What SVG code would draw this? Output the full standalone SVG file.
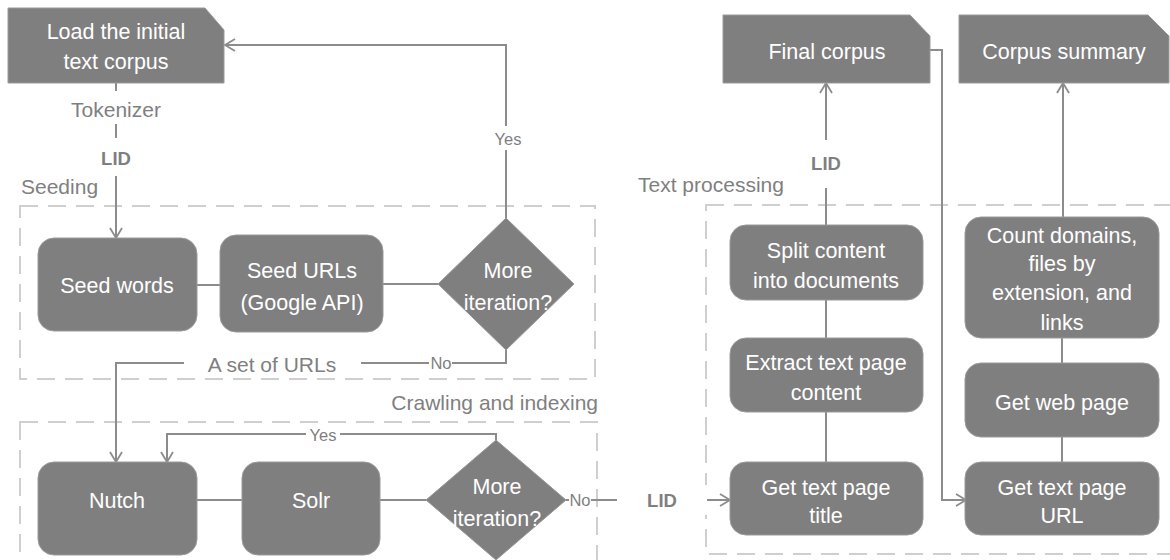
<svg xmlns="http://www.w3.org/2000/svg" width="1170" height="560" viewBox="0 0 1170 560">
<style>
.box{fill:#7f7f7f;stroke:#9a9a9a;stroke-width:1}
.nt{font-family:"Liberation Sans",Arial,sans-serif;font-size:21.5px;fill:#fff;text-anchor:middle}
.lbl{font-family:"Liberation Sans",Arial,sans-serif;font-size:21px;fill:#7f7f7f}
.sm{font-family:"Liberation Sans",Arial,sans-serif;font-size:16.5px;fill:#7f7f7f;text-anchor:middle}
.lid{font-family:"Liberation Sans",Arial,sans-serif;font-size:18.5px;font-weight:bold;fill:#7f7f7f;text-anchor:middle}
.ln{fill:none;stroke:#8c8c8c;stroke-width:2}
.grp{fill:none;stroke:#cfcfcf;stroke-width:2;stroke-dasharray:18 10}
.bg{fill:#fff}
</style>
<defs>
<marker id="arr" markerUnits="userSpaceOnUse" markerWidth="14" markerHeight="14" refX="11" refY="7" orient="auto">
<path d="M1,1 L11,7 L1,13" fill="none" stroke="#8c8c8c" stroke-width="1.8"/>
</marker>
</defs>
<rect width="1170" height="560" fill="#fff"/>

<g id="groups">
<rect class="grp" x="20" y="206" width="575" height="173"/>
<rect class="grp" x="20" y="422" width="577" height="160"/>
<rect class="grp" x="706" y="205" width="480" height="349"/>
<text class="lbl" x="21" y="194">Seeding</text>
<text class="lbl" x="598" y="410" text-anchor="end">Crawling and indexing</text>
<text class="lbl" x="638" y="192">Text processing</text>
</g>

<g id="connectors">
<path class="ln" d="M116,83 V238" marker-end="url(#arr)"/>
<rect class="bg" x="60" y="91" width="112" height="33"/>
<rect class="bg" x="95" y="138" width="42" height="38"/>
<path class="ln" d="M506,218 V45 H225" marker-end="url(#arr)"/>
<rect class="bg" x="490" y="126" width="34" height="24"/>
<path class="ln" d="M197,285 H220"/>
<path class="ln" d="M383,284 H439"/>
<path class="ln" d="M506,350 V363 H116 V462" marker-end="url(#arr)"/>
<rect class="bg" x="429" y="355" width="23" height="16"/>
<rect class="bg" x="184" y="350" width="177" height="26"/>
<path class="ln" d="M496,440 V434 H167 V462" marker-end="url(#arr)"/>
<rect class="bg" x="306" y="427" width="34" height="16"/>
<path class="ln" d="M197,500 H242"/>
<path class="ln" d="M380,500 H426"/>
<path class="ln" d="M566,500 H730" marker-end="url(#arr)"/>
<rect class="bg" x="569" y="492" width="22" height="16"/>
<rect class="bg" x="617" y="485" width="90" height="30"/>
<path class="ln" d="M826,338 V300"/>
<path class="ln" d="M826,462 V412"/>
<path class="ln" d="M826,225 V83" marker-end="url(#arr)"/>
<rect class="bg" x="805" y="140" width="42" height="48"/>
<path class="ln" d="M930,50 H942 V500 H966" marker-end="url(#arr)"/>
<path class="ln" d="M1062,462 V437"/>
<path class="ln" d="M1062,363 V338"/>
<path class="ln" d="M1063,217 V83" marker-end="url(#arr)"/>
<text class="lbl" x="116" y="117" text-anchor="middle">Tokenizer</text>
<text class="lid" x="116" y="165">LID</text>
<text class="sm" x="508" y="145">Yes</text>
<text class="sm" x="441" y="369">No</text>
<text class="lbl" x="272" y="372" text-anchor="middle">A set of URLs</text>
<text class="sm" x="323" y="441">Yes</text>
<text class="sm" x="580" y="506">No</text>
<text class="lid" x="662" y="507">LID</text>
<text class="lid" x="826" y="170">LID</text>
</g>

<g id="load"><path class="box" d="M8,8 H205 L224,30 V83 H8 Z"/><text class="nt" x="116" y="39">Load the initial</text><text class="nt" x="116" y="69">text corpus</text></g>
<g id="seedwords"><rect class="box" x="38" y="238" width="159" height="93" rx="16"/><text class="nt" x="117" y="293">Seed words</text></g>
<g id="seedurls"><rect class="box" x="220" y="235" width="163" height="97" rx="16"/><text class="nt" x="302" y="278">Seed URLs</text><text class="nt" x="302" y="310">(Google API)</text></g>
<g id="more1"><polygon class="box" points="506,218 574,284 506,350 438,284"/><text class="nt" x="508" y="278">More</text><text class="nt" x="508" y="310">iteration?</text></g>
<g id="nutch"><rect class="box" x="38" y="462" width="159" height="93" rx="16"/><text class="nt" x="117" y="508">Nutch</text></g>
<g id="solr"><rect class="box" x="242" y="462" width="138" height="93" rx="16"/><text class="nt" x="311" y="508">Solr</text></g>
<g id="more2"><polygon class="box" points="496,440 566,500 496,560 426,500"/><text class="nt" x="497" y="494">More</text><text class="nt" x="497" y="526">iteration?</text></g>
<g id="final"><path class="box" d="M723,15 H910 L930,36 V83 H723 Z"/><text class="nt" x="827" y="59">Final corpus</text></g>
<g id="summary"><path class="box" d="M959,15 H1148 L1169,36 V83 H959 Z"/><text class="nt" x="1064" y="59">Corpus summary</text></g>
<g id="split"><rect class="box" x="730" y="225" width="193" height="75" rx="16"/><text class="nt" x="826" y="258">Split content</text><text class="nt" x="826" y="288">into documents</text></g>
<g id="extract"><rect class="box" x="730" y="338" width="193" height="74" rx="16"/><text class="nt" x="826" y="370">Extract text page</text><text class="nt" x="826" y="400">content</text></g>
<g id="title"><rect class="box" x="730" y="462" width="193" height="73" rx="16"/><text class="nt" x="826" y="495">Get text page</text><text class="nt" x="826" y="523">title</text></g>
<g id="count"><rect class="box" x="965" y="217" width="194" height="121" rx="16"/><text class="nt" x="1062" y="243">Count domains,</text><text class="nt" x="1062" y="271">files by</text><text class="nt" x="1062" y="300">extension, and</text><text class="nt" x="1062" y="330">links</text></g>
<g id="webpage"><rect class="box" x="965" y="363" width="194" height="74" rx="16"/><text class="nt" x="1062" y="410">Get web page</text></g>
<g id="url"><rect class="box" x="965" y="462" width="194" height="73" rx="16"/><text class="nt" x="1062" y="495">Get text page</text><text class="nt" x="1062" y="523">URL</text></g>
</svg>
